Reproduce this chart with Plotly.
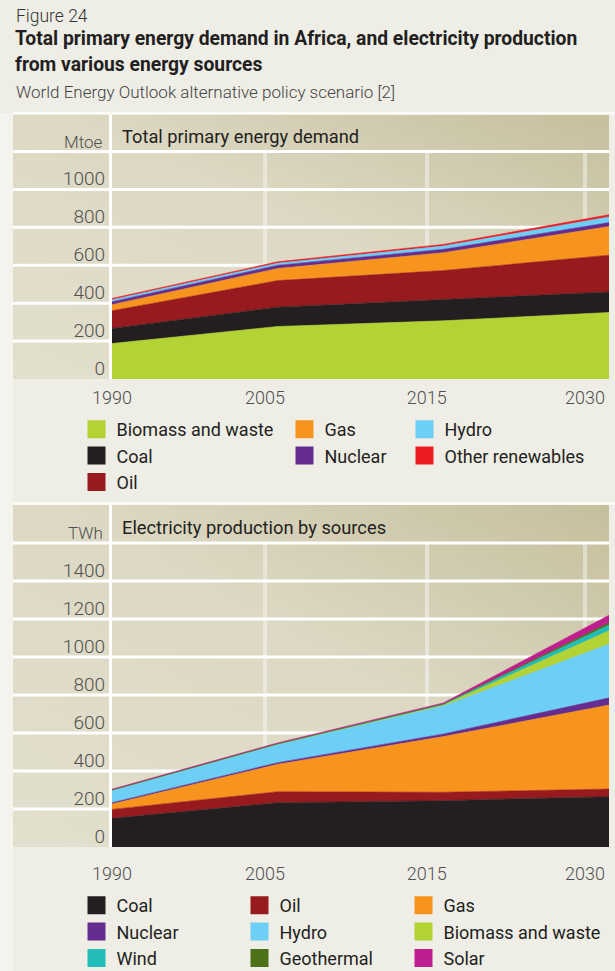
import base64
import plotly.graph_objects as go

W, H = 615, 971

years = ["1990", "2005", "2015", "2030"]

# Total primary energy demand (Mtoe), stacked from bottom
tpe_names = ["Biomass and waste", "Coal", "Oil", "Gas", "Nuclear", "Hydro", "Other renewables"]
tpe_biomass = [187, 277, 307, 351]
tpe_coal = [80, 102, 112, 108]
tpe_oil = [93, 140, 153, 194]
tpe_gas = [32, 64, 94, 151]
tpe_nuclear = [16, 17, 18, 21]
tpe_hydro = [10, 11, 17, 30]
tpe_other = [7, 7, 9, 11]

# Electricity production by sources (TWh), stacked from bottom
el_names = ["Coal", "Oil", "Gas", "Nuclear", "Hydro", "Biomass and waste", "Wind", "Geothermal", "Solar"]
el_coal = [151, 233, 244, 265]
el_oil = [47, 58, 44, 40]
el_gas = [28, 144, 293, 442]
el_nuclear = [7, 9, 14, 38]
el_hydro = [65, 96, 147, 283]
el_biomass = [1, 1, 5, 70]
el_wind = [0, 1, 3, 30]
el_geo = [1, 1, 2, 12]
el_solar = [4, 5, 6, 40]

top_ticks = [0, 200, 400, 600, 800, 1000]
bot_ticks = [0, 200, 400, 600, 800, 1000, 1200, 1400]

colors = {
    "Biomass and waste": "#b3d335",
    "Coal": "#231f20",
    "Oil": "#971b1e",
    "Gas": "#f7941d",
    "Nuclear": "#662d91",
    "Hydro": "#6dcff6",
    "Other renewables": "#ed1c24",
    "Wind": "#22bcb9",
    "Geothermal": "#4d7118",
    "Solar": "#bf1e8e",
}

FONT = "Roboto"
TXT = "#231f20"
GREY = "#505050"


def X(px):
    return px / W


def Y(py):
    return 1 - py / H


xi = list(range(len(years)))
# tick/grid positions (in index units) as placed in the original design
xtick_pos = [0, 0.923, 1.90, 2.855]

fig = go.Figure()

top_series = [tpe_biomass, tpe_coal, tpe_oil, tpe_gas, tpe_nuclear, tpe_hydro, tpe_other]
for name, vals in zip(tpe_names, top_series):
    c = colors[name]
    fig.add_trace(go.Scatter(x=xi, y=vals, name=name, stackgroup="top", mode="lines",
                             line=dict(color=c, width=0.6), fillcolor=c,
                             showlegend=False, hoverinfo="skip", xaxis="x", yaxis="y"))

bot_series = [el_coal, el_oil, el_gas, el_nuclear, el_hydro, el_biomass, el_wind, el_geo, el_solar]
for name, vals in zip(el_names, bot_series):
    c = colors[name]
    fig.add_trace(go.Scatter(x=xi, y=vals, name=name, stackgroup="bot", mode="lines",
                             line=dict(color=c, width=0.6), fillcolor=c,
                             showlegend=False, hoverinfo="skip", xaxis="x2", yaxis="y2"))

# legend columns
top_cols = [["Biomass and waste", "Coal", "Oil"], ["Gas", "Nuclear"], ["Hydro", "Other renewables"]]
bot_cols = [["Coal", "Nuclear", "Wind"], ["Oil", "Hydro", "Geothermal"], ["Gas", "Biomass and waste", "Solar"]]
top_col_x = [97.5, 305.5, 425.5]
bot_col_x = [97.5, 260.5, 424.5]
top_leg_y = 427.5
bot_leg_y = 903.5

legends = {}
lid = 1
for cols, colx, ly, ax in [(top_cols, top_col_x, top_leg_y, ("x", "y")),
                           (bot_cols, bot_col_x, bot_leg_y, ("x2", "y2"))]:
    for names, cx in zip(cols, colx):
        key = "legend" if lid == 1 else f"legend{lid}"
        for n in names:
            c = colors[n]
            fig.add_trace(go.Scatter(x=[None], y=[None], mode="markers", name=n,
                                     marker=dict(symbol="square", size=16, color=c,
                                                 line=dict(color=c, width=2)),
                                     legend=key, showlegend=True, hoverinfo="skip",
                                     xaxis=ax[0], yaxis=ax[1]))
        legends[key] = dict(x=X(cx - 21), y=Y(ly - 16.5), xanchor="left", yanchor="top",
                            bgcolor="rgba(0,0,0,0)", borderwidth=0, orientation="v",
                            traceorder="normal", itemclick=False, itemdoubleclick=False,
                            font=dict(family=FONT, size=18, color=TXT))
        lid += 1


def grad_src():
    svg = ('<svg xmlns="http://www.w3.org/2000/svg" width="100" height="100" '
           'viewBox="0 0 100 100" preserveAspectRatio="none">'
           '<defs><linearGradient id="g" x1="0" y1="1" x2="1" y2="0">'
           '<stop offset="0" stop-color="#e2dfcd"/>'
           '<stop offset="0.55" stop-color="#dcd8c3"/>'
           '<stop offset="1" stop-color="#c6bf9d"/>'
           '</linearGradient></defs>'
           '<rect width="100" height="100" fill="url(#g)"/></svg>')
    return "data:image/svg+xml;base64," + base64.b64encode(svg.encode()).decode()


panels = [
    dict(top=115, band=151.5, bottom=379, ax="y", rng=1200,
         unit="Mtoe", title="Total primary energy demand", xlab_pad=6),
    dict(top=505, band=543, bottom=847, ax="y2", rng=1600,
         unit="TWh", title="Electricity production by sources", xlab_pad=14),
]

images = []
shapes = []
annotations = []

for p in panels:
    images.append(dict(source=grad_src(), xref="paper", yref="paper",
                       x=X(13), y=Y(p["top"]), sizex=X(609) - X(13),
                       sizey=Y(p["top"]) - Y(p["bottom"]),
                       sizing="stretch", xanchor="left", yanchor="top", layer="below"))
    shapes.append(dict(type="line", xref="paper", yref="paper", x0=X(110.5), x1=X(110.5),
                       y0=Y(p["top"]), y1=Y(p["bottom"]), line=dict(color="white", width=3),
                       layer="below"))
    shapes.append(dict(type="line", xref="paper", yref="paper", x0=X(13), x1=X(609),
                       y0=Y(p["band"]), y1=Y(p["band"]), line=dict(color="white", width=3),
                       layer="below"))
    for v in range(200, p["rng"], 200):
        shapes.append(dict(type="line", xref="paper", yref=p["ax"], x0=X(13), x1=X(609),
                           y0=v, y1=v, line=dict(color="white", width=3), layer="below"))
    annotations.append(dict(text=p["unit"], xref="paper", yref="paper", x=X(104.5),
                            y=Y((p["top"] + p["band"]) / 2 + 9), xanchor="right", yanchor="middle",
                            showarrow=False, font=dict(family=FONT, size=17, color=GREY, weight=300)))
    annotations.append(dict(text=p["title"], xref="paper", yref="paper", x=X(120),
                            y=Y((p["top"] + p["band"]) / 2 + 3.5), xanchor="left", yanchor="middle",
                            showarrow=False, font=dict(family=FONT, size=18.3, color=TXT)))

for yy in [113, 503.5]:
    shapes.append(dict(type="line", xref="paper", yref="paper", x0=X(13), x1=1,
                       y0=Y(yy), y1=Y(yy), line=dict(color="#fbfbf8", width=2.5), layer="below"))
shapes.append(dict(type="rect", xref="paper", yref="paper", x0=0, x1=X(13),
                   y0=0, y1=Y(113), fillcolor="#f4f3ee", line=dict(width=0), layer="below"))

annotations += [
    dict(text="Figure 24", x=X(14), y=Y(16.2), font=dict(family=FONT, size=17.5, color="#333333", weight=300)),
    dict(text="<b>Total primary energy demand in Africa, and electricity production</b>", x=X(13), y=Y(38.8),
         font=dict(family=FONT, size=19.3, color=TXT)),
    dict(text="<b>from various energy sources</b>", x=X(13), y=Y(64.5),
         font=dict(family=FONT, size=19.3, color=TXT)),
    dict(text="World Energy Outlook alternative policy scenario [2]", x=X(14), y=Y(92),
         font=dict(family=FONT, size=17, color="#444444", weight=300)),
]
for a in annotations[-4:]:
    a.update(xref="paper", yref="paper", xanchor="left", yanchor="middle", showarrow=False)

xcommon = dict(range=[0, 3], tickmode="array", tickvals=xtick_pos, ticktext=years,
               showgrid=True, gridcolor="rgba(255,255,255,0.42)", gridwidth=3.5,
               zeroline=False, showline=False, ticks="", fixedrange=True, automargin=False,
               tickfont=dict(family=FONT, size=18, color=GREY, weight=300))
ycommon = dict(showgrid=False, zeroline=False, showline=False, ticks="", fixedrange=True,
               automargin=False, ticklabelshift=-11, ticklabelstandoff=6,
               tickfont=dict(family=FONT, size=19, color=GREY, weight=300))

fig.update_layout(
    width=W, height=H, margin=dict(l=0, r=0, t=0, b=0, autoexpand=False),
    paper_bgcolor="#eeede6", plot_bgcolor="rgba(0,0,0,0)",
    xaxis=dict(domain=[X(112), X(609)], anchor="y", ticklabelstandoff=panels[0]["xlab_pad"], **xcommon),
    yaxis=dict(domain=[Y(379), Y(151.5)], range=[0, 1200], tickvals=top_ticks, anchor="x", **ycommon),
    xaxis2=dict(domain=[X(112), X(609)], anchor="y2", ticklabelstandoff=panels[1]["xlab_pad"], **xcommon),
    yaxis2=dict(domain=[Y(847), Y(543)], range=[0, 1600], tickvals=bot_ticks, anchor="x2", **ycommon),
    images=images, shapes=shapes, annotations=annotations,
    hovermode=False,
    **legends,
)

fig.write_html("out.html", post_script="document.body.style.margin='0';",
               config={"displayModeBar": False})
